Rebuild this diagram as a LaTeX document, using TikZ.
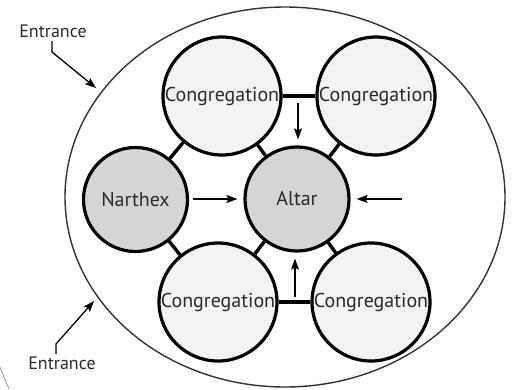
\documentclass[tikz,border=0pt]{standalone}
\usepackage{fontspec}
\setmainfont{PT Sans}
\usetikzlibrary{arrows.meta}
\definecolor{congfill}{HTML}{F3F3F3}
\definecolor{corefill}{HTML}{D5D5D5}
\definecolor{txt}{HTML}{2A2A2A}
\tikzset{
  room/.style={circle, draw=black, line width=3.2pt, inner sep=0pt, text=txt},
  cong/.style={room, fill=congfill, minimum size=118pt, font=\fontsize{20}{20}\selectfont},
  core/.style={room, fill=corefill, minimum size=104pt, font=\fontsize{20}{20}\selectfont},
  link/.style={line width=3.4pt, line cap=butt},
  flow/.style={line width=1.3pt, -{Stealth[length=11pt,width=8pt,inset=2pt]}},
  gapflow/.style={flow, shorten >=6pt},
  label/.style={text=txt, font=\fontsize{18}{18}\selectfont, inner sep=0pt}
}
\begin{document}
\begin{tikzpicture}[x=1pt, y=-1pt]
\useasboundingbox (0,0) rectangle (516,389);
% outer boundary of the building
\draw[line width=1.4pt, draw=black!80] (285,197) ellipse [x radius=220, y radius=190];
% stray edge mark
\draw[line width=0.6pt, draw=black!50] (0,367) -- (9,389);

% rooms
\node[cong] (tl) at (222,96) {Congregation};
\node[cong] (tr) at (376,96) {Congregation};
\node[cong] (bl) at (218,302) {Congregation};
\node[cong] (br) at (371,302) {Congregation};
\node[core] (nx) at (135.5,199.5) {Narthex};
\node[core] (al) at (297,199) {Altar};

% passages between rooms
\draw[link] (tl) -- (tr);
\draw[link] (bl) -- (br);
\draw[link] (tl) -- (nx);
\draw[link] (tl) -- (al);
\draw[link] (tr) -- (al);
\draw[link] (nx) -- (bl);
\draw[link] (al) -- (bl);
\draw[link] (al) -- (br);

% movement toward the altar
\coordinate (dtop) at (298,103);
\coordinate (dbot) at (295,297);
\coordinate (dright) at (402,199);
\coordinate (nxout) at (193,199);
\draw[gapflow] (dtop) -- (dtop |- al.north);
\draw[gapflow] (dbot) -- (dbot |- al.south);
\draw[gapflow] (dright) -- (al.east);
\draw[gapflow] (nxout) -- (al.west);

% entrances
\node[label] (e1) at (53,31) {Entrance};
\coordinate (e1t) at (96,88);
\draw[flow] (52,41) -- (52,52) -- (e1t);
\node[label] (e2) at (62,363) {Entrance};
\coordinate (e2t) at (94,301);
\draw[flow] (56,354) -- (56,344) -- (e2t);
\end{tikzpicture}
\end{document}
